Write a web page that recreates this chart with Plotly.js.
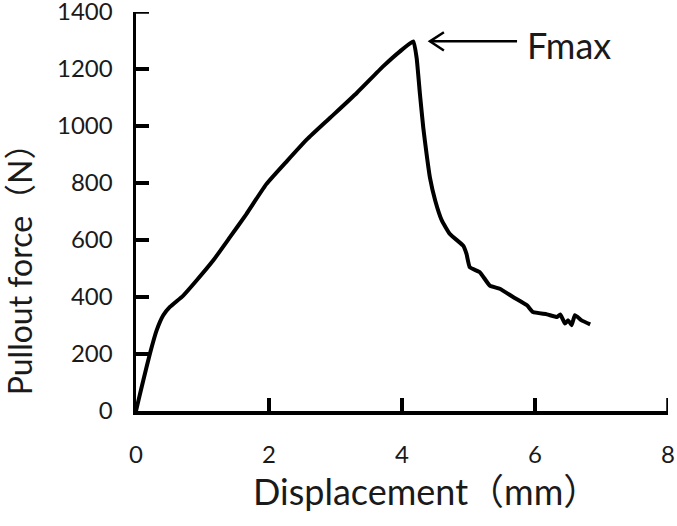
<!DOCTYPE html>
<html>
<head>
<meta charset="utf-8">
<script src="https://cdn.plot.ly/plotly-3.0.1.min.js"></script>
<style>html,body{margin:0;padding:0;background:#fff;}</style>
</head>
<body>
<div id="chart" style="width:677px;height:526px;"></div>
<script>
// Displacement (mm)
const displacement = [0, 0.04, 0.11, 0.21, 0.31, 0.41, 0.51, 0.71, 0.91, 1.16, 1.41, 1.66, 1.96, 2.27, 2.57, 2.92, 3.32, 3.72, 3.97, 4.17,
  4.22, 4.27, 4.32, 4.37, 4.42, 4.50, 4.60, 4.72, 4.92, 4.97, 5.02, 5.17, 5.32, 5.47, 5.67, 5.88, 5.97, 6.18, 6.33, 6.38, 6.45, 6.50, 6.55, 6.60, 6.70, 6.83];
// Pullout force (N)
const pulloutForce = [0, 40, 108, 202, 283, 336, 365, 405, 458, 528, 609, 691, 796, 877, 953, 1029, 1116, 1210, 1262, 1297,
  1239, 1111, 994, 901, 819, 738, 668, 621, 580, 551, 504, 487, 440, 429, 400, 371, 347, 339, 330, 339, 307, 318, 301, 336, 318, 304];
const xTicks = [0, 2, 4, 6, 8];
const yTicks = [0, 200, 400, 600, 800, 1000, 1200, 1400];
const peakLabel = "Fmax";
const xTitle = "Displacement（mm）";
const yTitle = "Pullout force（N）";

let pi = 0;
for (let i = 0; i < pulloutForce.length; i++) if (pulloutForce[i] > pulloutForce[pi]) pi = i;
const px = displacement[pi], py = pulloutForce[pi];
const tipX = px + 0.25, tailX = px + 1.56;

const TICK = 13;
const font = "Lato, 'Noto Sans CJK SC', sans-serif";
const trace = {
  x: displacement, y: pulloutForce, type: 'scatter', mode: 'lines',
  line: {color: '#000', width: 4, shape: 'spline', smoothing: 0.4}, hoverinfo: 'skip'
};
const axisCommon = {
  showgrid: false, zeroline: false, showline: true, linecolor: '#000', linewidth: 3.5,
  ticks: 'inside', ticklen: TICK, tickwidth: 3.5, tickcolor: '#000', ticklabeloverflow: 'allow',
  tickfont: {family: font, size: 24, color: '#1a1a1a'}
};

// tick marks as pixel-sized shapes anchored on the axis values
const tickShapes = [];
xTicks.filter(v => v !== 0).forEach(v => tickShapes.push({type: 'line', xref: 'x', yref: 'y',
  ysizemode: 'pixel', yanchor: 0, x0: v, x1: v, y0: 0, y1: TICK, layer: 'above',
  line: {color: '#000', width: 3.5}}));
yTicks.filter(v => v !== 0).forEach(v => tickShapes.push({type: 'line', xref: 'x', yref: 'y',
  xsizemode: 'pixel', xanchor: 0, x0: 0, x1: TICK, y0: v, y1: v, layer: 'above',
  line: {color: '#000', width: 3.5}}));

const layout = {
  width: 677, height: 526,
  margin: {l: 136, r: 9, t: 12, b: 115},
  paper_bgcolor: '#fff', plot_bgcolor: '#fff',
  showlegend: false,
  xaxis: Object.assign({}, axisCommon, {range: [0, 8], tickvals: xTicks, ticklabelstandoff: 20}),
  yaxis: Object.assign({}, axisCommon, {range: [0, 1400], tickvals: yTicks, ticklabelstandoff: 15}),
  shapes: tickShapes.concat([
    {type: 'line', xref: 'x', yref: 'y', x0: tipX, y0: py, x1: tailX, y1: py, line: {color: '#000', width: 2.5}},
    {type: 'path', xref: 'x', yref: 'y',
     path: `M ${tipX + 0.21} ${py + 32} L ${tipX} ${py} L ${tipX + 0.21} ${py - 32}`,
     line: {color: '#000', width: 2.5}}
  ]),
  annotations: [
    {xref: 'x', yref: 'y', x: tailX + 0.12, y: py - 12, xanchor: 'left', yanchor: 'middle',
     text: peakLabel, showarrow: false, font: {family: font, size: 36, color: '#1a1a1a'}},
    {xref: 'paper', yref: 'paper', x: 0.545, y: -0.2, xanchor: 'center', yanchor: 'middle',
     text: xTitle, showarrow: false, font: {family: font, size: 36, color: '#1a1a1a'}},
    {xref: 'paper', yref: 'paper', x: -0.220, y: 0.375, xanchor: 'center', yanchor: 'middle', textangle: -90,
     text: yTitle, showarrow: false, font: {family: font, size: 32, color: '#1a1a1a'}}
  ]
};
Plotly.newPlot('chart', [trace], layout, {staticPlot: true, displayModeBar: false});
</script>
</body>
</html>
